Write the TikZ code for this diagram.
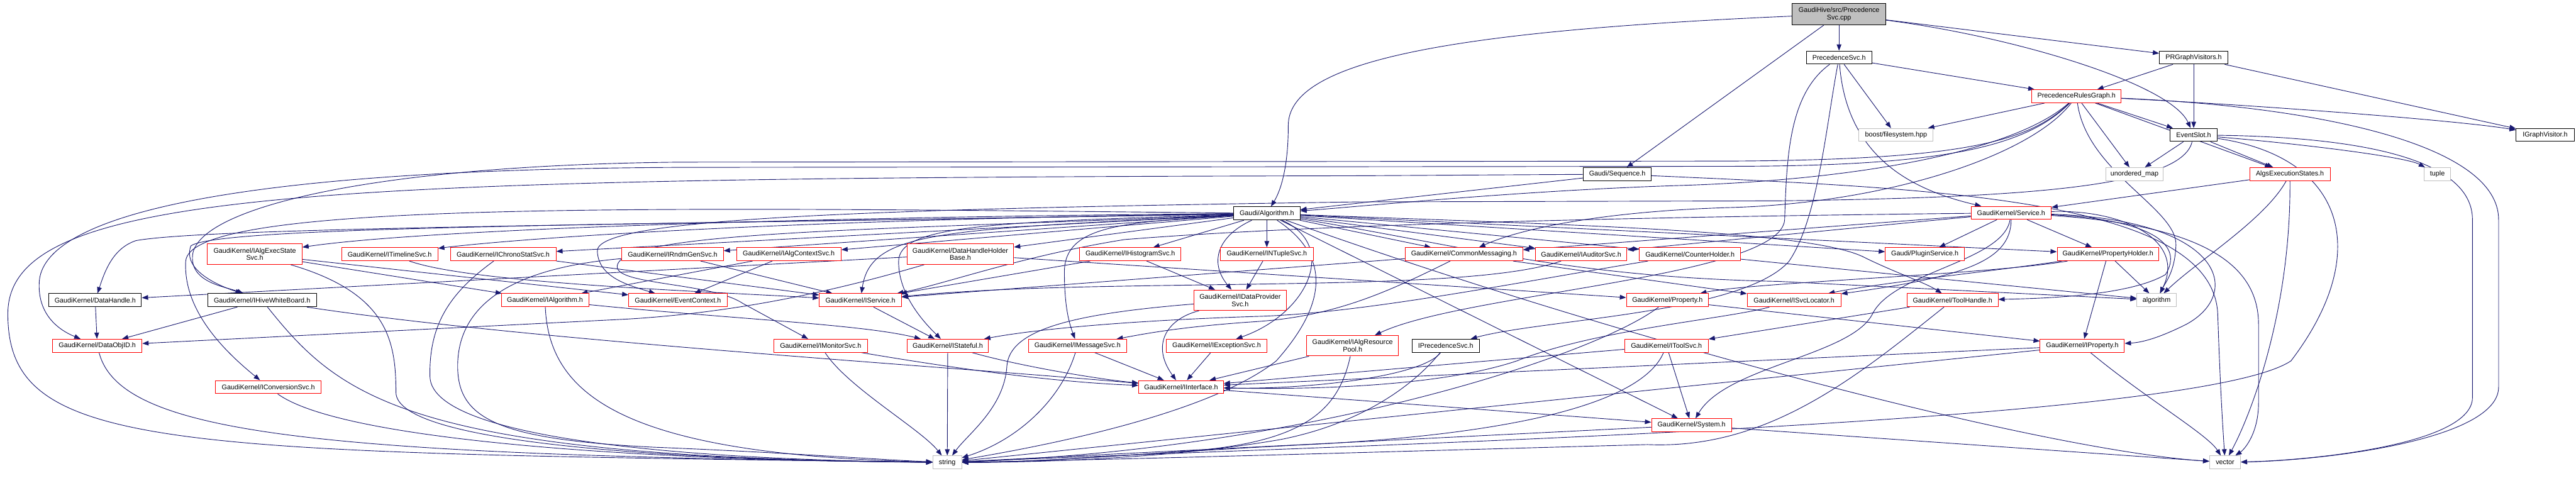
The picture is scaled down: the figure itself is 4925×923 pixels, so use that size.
\documentclass[tikz,border=0pt]{standalone}
\usepackage{fontspec}
\setmainfont{Liberation Sans}
\usetikzlibrary{arrows.meta}
\definecolor{edgec}{RGB}{25,25,112}
\definecolor{grayb}{RGB}{191,191,191}
\pgfdeclarelayer{bgl}
\pgfdeclarelayer{edgel}
\pgfsetlayers{bgl,edgel,main}
\begin{document}
\begin{tikzpicture}[x=1pt,y=-1pt,
  base/.style={draw, line width=1.2pt, fill=white, inner sep=0pt, minimum height=25, align=center, font=\fontsize{13}{14}\selectfont},
  rn/.style={base, draw=red},
  bn/.style={base, draw=black},
  gn/.style={base, draw=grayb},
  e/.style={draw=edgec, line width=1.1pt, -{Triangle[length=12pt,width=9pt]}},
  ]
\useasboundingbox (0,0) rectangle (4925,923);
\begin{pgfonlayer}{bgl}
\fill[white] (0,0) rectangle (4925,923);
\end{pgfonlayer}
% ---------- nodes ----------
\node[bn, fill=grayb, minimum width=179, minimum height=41] (root) at (3516,27) {GaudiHive/src/Precedence\\Svc.cpp};
\node[bn, minimum width=125] (psvc) at (3516,110) {PrecedenceSvc.h};
\node[bn, minimum width=131] (prgv) at (4194,110) {PRGraphVisitors.h};
\node[rn, minimum width=171] (prg) at (3970,184) {PrecedenceRulesGraph.h};
\node[gn, minimum width=142] (boost) at (3625,258) {boost/filesystem.hpp};
\node[bn, minimum width=91] (evs) at (4194,258) {EventSlot.h};
\node[bn, minimum width=111] (igv) at (4866,258) {IGraphVisitor.h};
\node[bn, minimum width=129] (seq) at (3092,333) {Gaudi/Sequence.h};
\node[gn, minimum width=110] (umap) at (4081,333) {unordered\_map};
\node[rn, minimum width=154] (aes) at (4378,333) {AlgsExecutionStates.h};
\node[gn, minimum width=51] (tuple) at (4660,333) {tuple};
\node[bn, minimum width=127] (alg) at (2422,408) {Gaudi/Algorithm.h};
\node[rn, minimum width=153] (svc) at (3845,407) {GaudiKernel/Service.h};
% row 6
\node[rn, minimum width=181, minimum height=39] (iaes) at (487,486) {GaudiKernel/IAlgExecState\\Svc.h};
\node[rn, minimum width=184] (itl) at (745,486) {GaudiKernel/ITimelineSvc.h};
\node[rn, minimum width=202] (ichrono) at (962,486) {GaudiKernel/IChronoStatSvc.h};
\node[rn, minimum width=194] (irndm) at (1286,486) {GaudiKernel/IRndmGenSvc.h};
\node[rn, minimum width=200] (ialgctx) at (1508,486) {GaudiKernel/IAlgContextSvc.h};
\node[rn, minimum width=204, minimum height=39] (dhhb) at (1836,486) {GaudiKernel/DataHandleHolder\\Base.h};
\node[rn, minimum width=194] (ihist) at (2161,486) {GaudiKernel/IHistogramSvc.h};
\node[rn, minimum width=178] (intuple) at (2422,486) {GaudiKernel/INTupleSvc.h};
\node[rn, minimum width=224] (cmsg) at (2799,486) {GaudiKernel/CommonMessaging.h};
\node[rn, minimum width=175] (iaud) at (3023,486) {GaudiKernel/IAuditorSvc.h};
\node[rn, minimum width=193] (ctr) at (3231,486) {GaudiKernel/CounterHolder.h};
\node[rn, minimum width=151] (plugin) at (3680,486) {Gaudi/PluginService.h};
\node[rn, minimum width=194] (pholder) at (4030,486) {GaudiKernel/PropertyHolder.h};
% row 7
\node[bn, minimum width=177] (dh) at (182,574) {GaudiKernel/DataHandle.h};
\node[bn, minimum width=208] (ihwb) at (501,574) {GaudiKernel/IHiveWhiteBoard.h};
\node[rn, minimum width=167] (ialg) at (1042,574) {GaudiKernel/IAlgorithm.h};
\node[rn, minimum width=188] (evctx) at (1296,574) {GaudiKernel/EventContext.h};
\node[rn, minimum width=157] (isvc) at (1645,574) {GaudiKernel/IService.h};
\node[rn, minimum width=177, minimum height=39] (idp) at (2371,574) {GaudiKernel/IDataProvider\\Svc.h};
\node[rn, minimum width=157] (prop) at (3188,574) {GaudiKernel/Property.h};
\node[rn, minimum width=179] (isl) at (3430,574) {GaudiKernel/ISvcLocator.h};
\node[rn, minimum width=174] (th) at (3733,574) {GaudiKernel/ToolHandle.h};
\node[gn, minimum width=75] (algo) at (4123,574) {algorithm};
% row 8
\node[rn, minimum width=171] (doid) at (186,661) {GaudiKernel/DataObjID.h};
\node[rn, minimum width=180] (imon) at (1569,661) {GaudiKernel/IMonitorSvc.h};
\node[rn, minimum width=156] (istate) at (1812,661) {GaudiKernel/IStateful.h};
\node[rn, minimum width=187] (imsg) at (2060,661) {GaudiKernel/IMessageSvc.h};
\node[rn, minimum width=193] (iexc) at (2326,661) {GaudiKernel/IExceptionSvc.h};
\node[rn, minimum width=176, minimum height=39] (iarp) at (2586,661) {GaudiKernel/IAlgResource\\Pool.h};
\node[bn, minimum width=129] (iprec) at (2764,661) {IPrecedenceSvc.h};
\node[rn, minimum width=160] (itool) at (3186,661) {GaudiKernel/IToolSvc.h};
\node[rn, minimum width=161] (iprop) at (3981,661) {GaudiKernel/IProperty.h};
% row 9-11
\node[rn, minimum width=202] (iconv) at (513,740) {GaudiKernel/IConversionSvc.h};
\node[rn, minimum width=162] (iif) at (2258,740) {GaudiKernel/IInterface.h};
\node[rn, minimum width=153] (sys) at (3234,813) {GaudiKernel/System.h};
\node[gn, minimum width=55] (string) at (1811,884) {string};
\node[gn, minimum width=59] (vector) at (4254,884) {vector};
% ---------- edges ----------
\begin{pgfonlayer}{edgel}
% root
\draw[e] (root) -- (psvc);
\draw[e] (root) -- (prgv);
\draw[e] (root) -- (seq);
\draw[e] (root) .. controls (2750,60) and (2463,120) .. (2463,240) .. controls (2463,330) and (2445,370) .. (alg);
\draw[e] (root) .. controls (3850,70) and (4150,160) .. (evs);
% PrecedenceSvc.h
\draw[e] (psvc) -- (prg);
\draw[e] (psvc) -- (boost);
\draw[e] (psvc) .. controls (3530,290) and (3640,360) .. (svc);
\draw[e] (psvc) .. controls (3420,180) and (3416,300) .. (3412,420) .. controls (3405,530) and (2800,560) .. (iarp);
\draw[e] (psvc) .. controls (3490,250) and (3475,420) .. (3420,500) .. controls (3330,600) and (2950,610) .. (iprec);
% PRGraphVisitors.h
\draw[e] (prgv) -- (prg);
\draw[e] (prgv) -- (evs);
\draw[e] (prgv) -- (igv);
% PrecedenceRulesGraph.h
\draw[e] (prg) -- (boost);
\draw[e] (prg) -- (evs);
\draw[e] (prg) -- (umap);
\draw[e] (prg) -- (aes);
\draw[e] (prg) .. controls (4300,200) and (4700,230) .. (igv);
\draw[e] (prg) .. controls (4450,205) and (4777,280) .. (4777,420) -- (4777,740) .. controls (4777,840) and (4450,880) .. (vector);
\draw[e] (prg) .. controls (3880,270) and (3760,306) .. (3300,308) -- (1300,310) .. controls (700,316) and (372,400) .. (368,490) .. controls (365,540) and (430,548) .. (ihwb);
\draw[e] (prg) .. controls (3870,285) and (3700,318) .. (3300,318) -- (1300,320) .. controls (400,324) and (80,420) .. (75,540) .. controls (72,600) and (110,630) .. (doid);
\draw[e] (prg) .. controls (3850,290) and (3550,345) .. (3200,355) .. controls (2900,365) and (2600,395) .. (alg);
\draw[e] (prg) .. controls (3880,300) and (3600,390) .. (3300,397) .. controls (3050,405) and (2900,440) .. (cmsg);
\draw[e] (prg) .. controls (3990,330) and (4165,400) .. (4160,470) .. controls (4158,520) and (4140,540) .. (algo);
% EventSlot.h
\draw[e] (evs) -- (umap);
\draw[e] (evs) -- (aes);
\draw[e] (evs) .. controls (4400,275) and (4600,300) .. (tuple);
\draw[e] (evs) .. controls (4170,360) and (3850,378) .. (3400,384) -- (2600,386) .. controls (1600,400) and (1140,420) .. (1142,480) .. controls (1144,530) and (1200,545) .. (evctx);
\draw[e] (evs) .. controls (4500,262) and (4727,300) .. (4727,420) -- (4727,760) .. controls (4727,850) and (4420,880) .. (vector);
\draw[e] (evs) .. controls (4480,300) and (4540,480) .. (4380,690) .. controls (4200,810) and (2600,850) .. (string);
% AlgsExecutionStates.h
\draw[e] (aes) -- (svc);
\draw[e] (aes) .. controls (4330,420) and (4200,500) .. (algo);
\draw[e] (aes) .. controls (4380,600) and (4300,800) .. (vector);
% Gaudi/Sequence.h
\draw[e] (seq) -- (alg);
\draw[e] (seq) -- (2600,336) .. controls (600,340) and (15,360) .. (15,600) .. controls (15,860) and (300,865) .. (string);
\draw[e] (seq) .. controls (3700,360) and (4230,380) .. (4240,600) .. controls (4245,750) and (4250,820) .. (vector);
% Gaudi/Algorithm.h
\draw[e] (alg) .. controls (1500,415) and (800,440) .. (iaes);
\draw[e] (alg) .. controls (1500,420) and (1000,455) .. (itl);
\draw[e] (alg) -- (ichrono);
\draw[e] (alg) -- (irndm);
\draw[e] (alg) -- (ialgctx);
\draw[e] (alg) -- (dhhb);
\draw[e] (alg) -- (ihist);
\draw[e] (alg) -- (intuple);
\draw[e] (alg) -- (cmsg);
\draw[e] (alg) -- (iaud);
\draw[e] (alg) -- (ctr);
\draw[e] (alg) -- (plugin);
\draw[e] (alg) -- (pholder);
\draw[e] (alg) .. controls (1200,430) and (400,435) .. (260,460) .. controls (215,475) and (200,520) .. (dh);
\draw[e] (alg) .. controls (1200,430) and (420,432) .. (365,470) .. controls (350,510) and (400,540) .. (ihwb);
\draw[e] (alg) .. controls (1200,395) and (360,385) .. (355,500) .. controls (350,600) and (440,680) .. (iconv);
\draw[e] (alg) .. controls (1700,440) and (1180,440) .. (1180,510) .. controls (1180,545) and (1360,540) .. (1420,580) -- (imon);
\draw[e] (alg) .. controls (1800,440) and (1665,440) .. (isvc);
\draw[e] (alg) .. controls (2330,450) and (2310,500) .. (idp);
\draw[e] (alg) .. controls (1900,425) and (1718,430) .. (1718,500) .. controls (1718,560) and (1760,610) .. (istate);
\draw[e] (alg) .. controls (2150,425) and (2035,430) .. (2035,520) .. controls (2035,590) and (2045,620) .. (imsg);
\draw[e] (alg) .. controls (2560,470) and (2500,600) .. (iexc);
\draw[e] (alg) .. controls (3000,430) and (3450,440) .. (3560,490) .. controls (3620,520) and (3680,540) .. (th);
\draw[e] (alg) .. controls (2800,470) and (3000,530) .. (3400,538) -- (algo);
\draw[e] (alg) -- (sys);
\draw[e] (alg) .. controls (2560,500) and (2520,600) .. (2440,690) .. controls (2300,800) and (1950,860) .. (string);
\draw[e] (alg) .. controls (3100,650) and (3900,860) .. (vector);
% GaudiKernel/Service.h
\draw[e] (svc) -- (cmsg);
\draw[e] (svc) -- (iaud);
\draw[e] (svc) -- (plugin);
\draw[e] (svc) -- (pholder);
\draw[e] (svc) .. controls (3100,415) and (2500,430) .. (2150,458) .. controls (1950,490) and (1800,545) .. (isvc);
\draw[e] (svc) .. controls (3845,500) and (3750,530) .. (isl);
\draw[e] (svc) .. controls (4120,420) and (4175,470) .. (4140,525) .. controls (4080,560) and (3950,570) .. (th);
\draw[e] (svc) .. controls (4060,400) and (4180,460) .. (algo);
\draw[e] (svc) .. controls (4250,420) and (4290,560) .. (4180,620) .. controls (4120,650) and (4090,655) .. (iprop);
\draw[e] (svc) .. controls (3830,500) and (3620,520) .. (3580,600) .. controls (3540,680) and (3300,700) .. (sys);
\draw[e] (svc) .. controls (4200,430) and (4318,500) .. (4318,620) -- (4318,770) .. controls (4318,830) and (4290,860) .. (vector);
% PropertyHolder.h
\draw[e] (pholder) .. controls (3800,520) and (3600,540) .. (isl);
\draw[e] (pholder) -- (algo);
\draw[e] (pholder) -- (iprop);
\draw[e] (pholder) .. controls (3800,525) and (3350,540) .. (prop);
% DataHandleHolderBase.h
\draw[e] (dhhb) -- (dh);
\draw[e] (dhhb) .. controls (1650,540) and (1450,595) .. (1200,610) -- (doid);
\draw[e] (dhhb) -- (prop);
% IAlgExecStateSvc.h
\draw[e] (iaes) -- (ialg);
\draw[e] (iaes) -- (evctx);
\draw[e] (iaes) .. controls (740,560) and (757,650) .. (757,750) .. controls (757,850) and (1300,880) .. (string);
% ITimelineSvc.h, IChronoStatSvc.h, IRndmGenSvc.h, IAlgContextSvc.h
\draw[e] (itl) .. controls (900,540) and (1300,555) .. (isvc);
\draw[e] (ichrono) -- (isvc);
\draw[e] (ichrono) .. controls (860,560) and (820,620) .. (822,720) .. controls (825,850) and (1400,880) .. (string);
\draw[e] (irndm) -- (isvc);
\draw[e] (irndm) .. controls (950,515) and (875,600) .. (875,700) .. controls (875,800) and (950,840) .. (1250,855) .. controls (1500,865) and (1700,880) .. (string);
\draw[e] (ialgctx) -- (ialg);
\draw[e] (ialgctx) -- (evctx);
% IHistogramSvc.h, INTupleSvc.h
\draw[e] (ihist) -- (idp);
\draw[e] (ihist) -- (isvc);
\draw[e] (intuple) -- (idp);
% CommonMessaging.h, IAuditorSvc.h, CounterHolder.h
\draw[e] (cmsg) .. controls (2650,560) and (2550,605) .. (2400,615) .. controls (2250,625) and (2180,640) .. (imsg);
\draw[e] (cmsg) -- (isl);
\draw[e] (cmsg) -- (isvc);
\draw[e] (iaud) .. controls (2850,545) and (2500,540) .. (2100,548) .. controls (1900,552) and (1800,560) .. (isvc);
\draw[e] (ctr) .. controls (2900,540) and (2600,600) .. (2400,605) .. controls (2100,615) and (1950,635) .. (istate);
\draw[e] (ctr) -- (algo);
% row 7 sources
\draw[e] (dh) -- (doid);
\draw[e] (ihwb) -- (doid);
\draw[e] (ihwb) .. controls (650,760) and (780,875) .. (string);
\draw[e] (ihwb) .. controls (1000,650) and (1800,700) .. (iif);
\draw[e] (ialg) .. controls (1400,610) and (1650,620) .. (istate);
\draw[e] (ialg) .. controls (1050,760) and (1200,870) .. (string);
\draw[e] (isvc) -- (istate);
\draw[e] (idp) .. controls (2230,610) and (2200,660) .. (iif);
\draw[e] (idp) .. controls (2050,600) and (1930,630) .. (1925,700) .. controls (1920,780) and (1850,830) .. (string);
\draw[e] (prop) -- (iprop);
\draw[e] (prop) .. controls (3050,680) and (2500,860) .. (string);
\draw[e] (isl) .. controls (3300,610) and (3050,630) .. (2900,690) .. controls (2750,740) and (2500,745) .. (iif);
\draw[e] (th) -- (itool);
\draw[e] (th) .. controls (3550,720) and (3380,860) .. (3150,850) .. controls (2600,865) and (2100,880) .. (string);
% row 8 sources
\draw[e] (doid) .. controls (230,830) and (600,870) .. (string);
\draw[e] (imon) .. controls (1800,700) and (2000,730) .. (iif);
\draw[e] (imon) .. controls (1620,740) and (1760,820) .. (string);
\draw[e] (istate) .. controls (1950,700) and (2100,725) .. (iif);
\draw[e] (istate) -- (string);
\draw[e] (imsg) -- (iif);
\draw[e] (imsg) .. controls (2030,760) and (1950,840) .. (string);
\draw[e] (iexc) -- (iif);
\draw[e] (iarp) -- (iif);
\draw[e] (iarp) .. controls (2560,780) and (2500,840) .. (2300,860) .. controls (2100,875) and (1950,884) .. (string);
\draw[e] (iprec) .. controls (2720,720) and (2500,745) .. (iif);
\draw[e] (iprec) .. controls (2700,740) and (2600,810) .. (2450,840) .. controls (2250,875) and (2000,884) .. (string);
\draw[e] (itool) -- (sys);
\draw[e] (itool) -- (iif);
\draw[e] (itool) .. controls (3140,770) and (2900,830) .. (2500,850) .. controls (2200,865) and (2000,884) .. (string);
\draw[e] (iprop) -- (iif);
\draw[e] (iprop) -- (string);
\draw[e] (iprop) .. controls (4100,760) and (4220,830) .. (vector);
% rows 9-10
\draw[e] (iconv) .. controls (650,840) and (1200,880) .. (string);
\draw[e] (iif) -- (sys);
\draw[e] (sys) -- (string);
\draw[e] (sys) -- (vector);
\end{pgfonlayer}
\end{tikzpicture}
\end{document}
